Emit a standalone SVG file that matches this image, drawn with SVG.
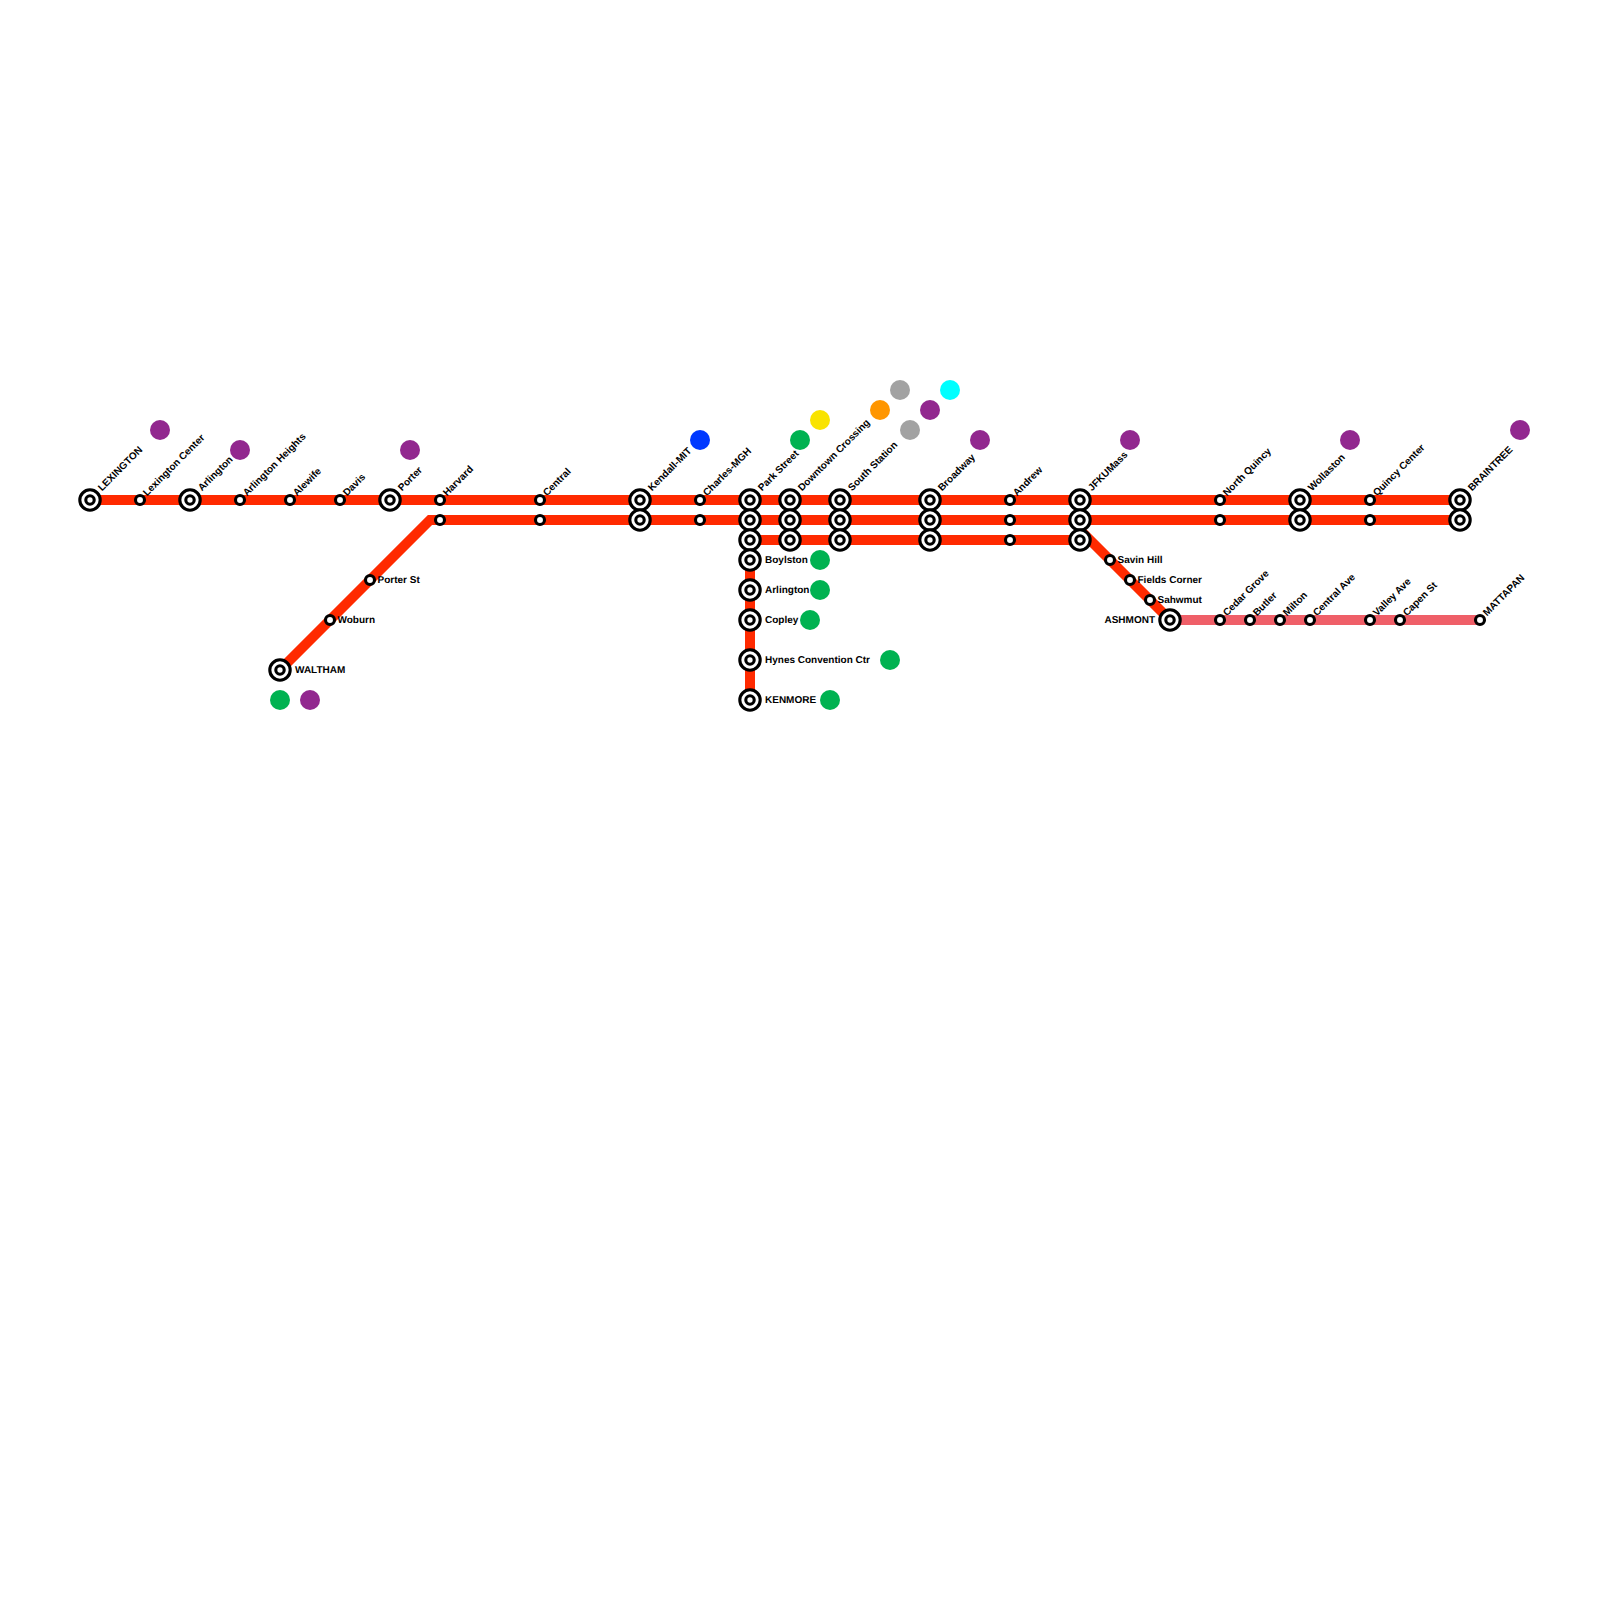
<svg xmlns="http://www.w3.org/2000/svg" width="1600" height="1600" viewBox="0 0 1600 1600">
<style>
.l{fill:none;stroke:#ff2a00;stroke-width:10;stroke-linejoin:miter}
.m{stroke:#ef5f68}
.o{fill:#fff;stroke:#000;stroke-width:3.1}
.t{font-family:"Liberation Sans",Arial,sans-serif;font-size:10px;font-weight:700;fill:#000;text-rendering:geometricPrecision}
.e{text-anchor:end}
.purple{fill:#92278f}.green{fill:#00b251}.gray{fill:#a2a2a2}
</style>
<defs>
<g id="big"><circle class="o" r="10.2"/><circle class="o" r="4.2"/></g>
<g id="small"><circle class="o" r="4.5"/></g>
</defs>
<rect width="1600" height="1600" fill="#fff"/>
<g id="connectors">
<path class="l" d="M90 500H1460"/>
<path class="l" d="M280 670L430 520H1460"/>
<path class="l" d="M750 700V540H1080"/>
<path class="l" d="M1080 530L1170 620"/>
<path class="l m" d="M1170 620H1480"/>
</g>
<g id="transfer-dots">
<circle class="purple" cx="160" cy="430" r="10"/>
<circle class="purple" cx="240" cy="450" r="10"/>
<circle class="purple" cx="410" cy="450" r="10"/>
<circle cx="700" cy="440" r="10" fill="#0038ff"/>
<circle class="green" cx="800" cy="440" r="10"/>
<circle cx="820" cy="420" r="10" fill="#f9e300"/>
<circle cx="880" cy="410" r="10" fill="#ff9600"/>
<circle class="gray" cx="900" cy="390" r="10"/>
<circle class="gray" cx="910" cy="430" r="10"/>
<circle class="purple" cx="930" cy="410" r="10"/>
<circle cx="950" cy="390" r="10" fill="#00ffff"/>
<circle class="purple" cx="980" cy="440" r="10"/>
<circle class="purple" cx="1130" cy="440" r="10"/>
<circle class="purple" cx="1350" cy="440" r="10"/>
<circle class="purple" cx="1520" cy="430" r="10"/>
<circle class="green" cx="820" cy="560" r="10"/>
<circle class="green" cx="820" cy="590" r="10"/>
<circle class="green" cx="810" cy="620" r="10"/>
<circle class="green" cx="890" cy="660" r="10"/>
<circle class="green" cx="830" cy="700" r="10"/>
<circle class="green" cx="280" cy="700" r="10"/>
<circle class="purple" cx="310" cy="700" r="10"/>
</g>
<g id="n-lexington"><use href="#big" x="90" y="500"/><text class="t" transform="translate(102 491.5) rotate(-45)">LEXINGTON</text></g>
<g id="n-lexington-center"><use href="#small" x="140" y="500"/><text class="t" transform="translate(147 496.5) rotate(-45)">Lexington Center</text></g>
<g id="n-arlington-1"><use href="#big" x="190" y="500"/><text class="t" transform="translate(202 491.5) rotate(-45)">Arlington</text></g>
<g id="n-arlington-heights"><use href="#small" x="240" y="500"/><text class="t" transform="translate(247 496.5) rotate(-45)">Arlington Heights</text></g>
<g id="n-alewife"><use href="#small" x="290" y="500"/><text class="t" transform="translate(297 496.5) rotate(-45)">Alewife</text></g>
<g id="n-davis"><use href="#small" x="340" y="500"/><text class="t" transform="translate(347 496.5) rotate(-45)">Davis</text></g>
<g id="n-porter"><use href="#big" x="390" y="500"/><text class="t" transform="translate(402 491.5) rotate(-45)">Porter</text></g>
<g id="n-harvard"><use href="#small" x="440" y="500"/><use href="#small" x="440" y="520"/><text class="t" transform="translate(447 496.5) rotate(-45)">Harvard</text></g>
<g id="n-central"><use href="#small" x="540" y="500"/><use href="#small" x="540" y="520"/><text class="t" transform="translate(547 496.5) rotate(-45)">Central</text></g>
<g id="n-kendall"><use href="#big" x="640" y="500"/><use href="#big" x="640" y="520"/><text class="t" transform="translate(652 491.5) rotate(-45)">Kendall-MIT</text></g>
<g id="n-charles"><use href="#small" x="700" y="500"/><use href="#small" x="700" y="520"/><text class="t" transform="translate(707 496.5) rotate(-45)">Charles-MGH</text></g>
<g id="n-park"><use href="#big" x="750" y="500"/><use href="#big" x="750" y="520"/><use href="#big" x="750" y="540"/><text class="t" transform="translate(762 491.5) rotate(-45)">Park Street</text></g>
<g id="n-downtown"><use href="#big" x="790" y="500"/><use href="#big" x="790" y="520"/><use href="#big" x="790" y="540"/><text class="t" transform="translate(802 491.5) rotate(-45)">Downtown Crossing</text></g>
<g id="n-south"><use href="#big" x="840" y="500"/><use href="#big" x="840" y="520"/><use href="#big" x="840" y="540"/><text class="t" transform="translate(852 491.5) rotate(-45)">South Station</text></g>
<g id="n-broadway"><use href="#big" x="930" y="500"/><use href="#big" x="930" y="520"/><use href="#big" x="930" y="540"/><text class="t" transform="translate(942 491.5) rotate(-45)">Broadway</text></g>
<g id="n-andrew"><use href="#small" x="1010" y="500"/><use href="#small" x="1010" y="520"/><use href="#small" x="1010" y="540"/><text class="t" transform="translate(1017 496.5) rotate(-45)">Andrew</text></g>
<g id="n-jfk"><use href="#big" x="1080" y="500"/><use href="#big" x="1080" y="520"/><use href="#big" x="1080" y="540"/><text class="t" transform="translate(1092 491.5) rotate(-45)">JFKUMass</text></g>
<g id="n-north-quincy"><use href="#small" x="1220" y="500"/><use href="#small" x="1220" y="520"/><text class="t" transform="translate(1227 496.5) rotate(-45)">North Quincy</text></g>
<g id="n-wollaston"><use href="#big" x="1300" y="500"/><use href="#big" x="1300" y="520"/><text class="t" transform="translate(1312 491.5) rotate(-45)">Wollaston</text></g>
<g id="n-quincy"><use href="#small" x="1370" y="500"/><use href="#small" x="1370" y="520"/><text class="t" transform="translate(1377 496.5) rotate(-45)">Quincy Center</text></g>
<g id="n-braintree"><use href="#big" x="1460" y="500"/><use href="#big" x="1460" y="520"/><text class="t" transform="translate(1472 491.5) rotate(-45)">BRAINTREE</text></g>
<g id="n-porter-st"><use href="#small" x="370" y="580"/><text class="t" x="377.5" y="582.5">Porter St</text></g>
<g id="n-woburn"><use href="#small" x="330" y="620"/><text class="t" x="337.5" y="622.5">Woburn</text></g>
<g id="n-waltham"><use href="#big" x="280" y="670"/><text class="t" x="295" y="672.5">WALTHAM</text></g>
<g id="n-boylston"><use href="#big" x="750" y="560"/><text class="t" x="765" y="562.5">Boylston</text></g>
<g id="n-arlington-2"><use href="#big" x="750" y="590"/><text class="t" x="765" y="592.5">Arlington</text></g>
<g id="n-copley"><use href="#big" x="750" y="620"/><text class="t" x="765" y="622.5">Copley</text></g>
<g id="n-hynes"><use href="#big" x="750" y="660"/><text class="t" x="765" y="662.5">Hynes Convention Ctr</text></g>
<g id="n-kenmore"><use href="#big" x="750" y="700"/><text class="t" x="765" y="702.5">KENMORE</text></g>
<g id="n-savin"><use href="#small" x="1110" y="560"/><text class="t" x="1117.5" y="562.5">Savin Hill</text></g>
<g id="n-fields"><use href="#small" x="1130" y="580"/><text class="t" x="1137.5" y="582.5">Fields Corner</text></g>
<g id="n-sahwmut"><use href="#small" x="1150" y="600"/><text class="t" x="1157.5" y="602.5">Sahwmut</text></g>
<g id="n-ashmont"><use href="#big" x="1170" y="620"/><text class="t e" x="1155" y="622.5">ASHMONT</text></g>
<g id="n-cedar"><use href="#small" x="1220" y="620"/><text class="t" transform="translate(1227 616.5) rotate(-45)">Cedar Grove</text></g>
<g id="n-butler"><use href="#small" x="1250" y="620"/><text class="t" transform="translate(1257 616.5) rotate(-45)">Butler</text></g>
<g id="n-milton"><use href="#small" x="1280" y="620"/><text class="t" transform="translate(1287 616.5) rotate(-45)">Milton</text></g>
<g id="n-central-ave"><use href="#small" x="1310" y="620"/><text class="t" transform="translate(1317 616.5) rotate(-45)">Central Ave</text></g>
<g id="n-valley"><use href="#small" x="1370" y="620"/><text class="t" transform="translate(1377 616.5) rotate(-45)">Valley Ave</text></g>
<g id="n-capen"><use href="#small" x="1400" y="620"/><text class="t" transform="translate(1407 616.5) rotate(-45)">Capen St</text></g>
<g id="n-mattapan"><use href="#small" x="1480" y="620"/><text class="t" transform="translate(1487 616.5) rotate(-45)">MATTAPAN</text></g>
</svg>
